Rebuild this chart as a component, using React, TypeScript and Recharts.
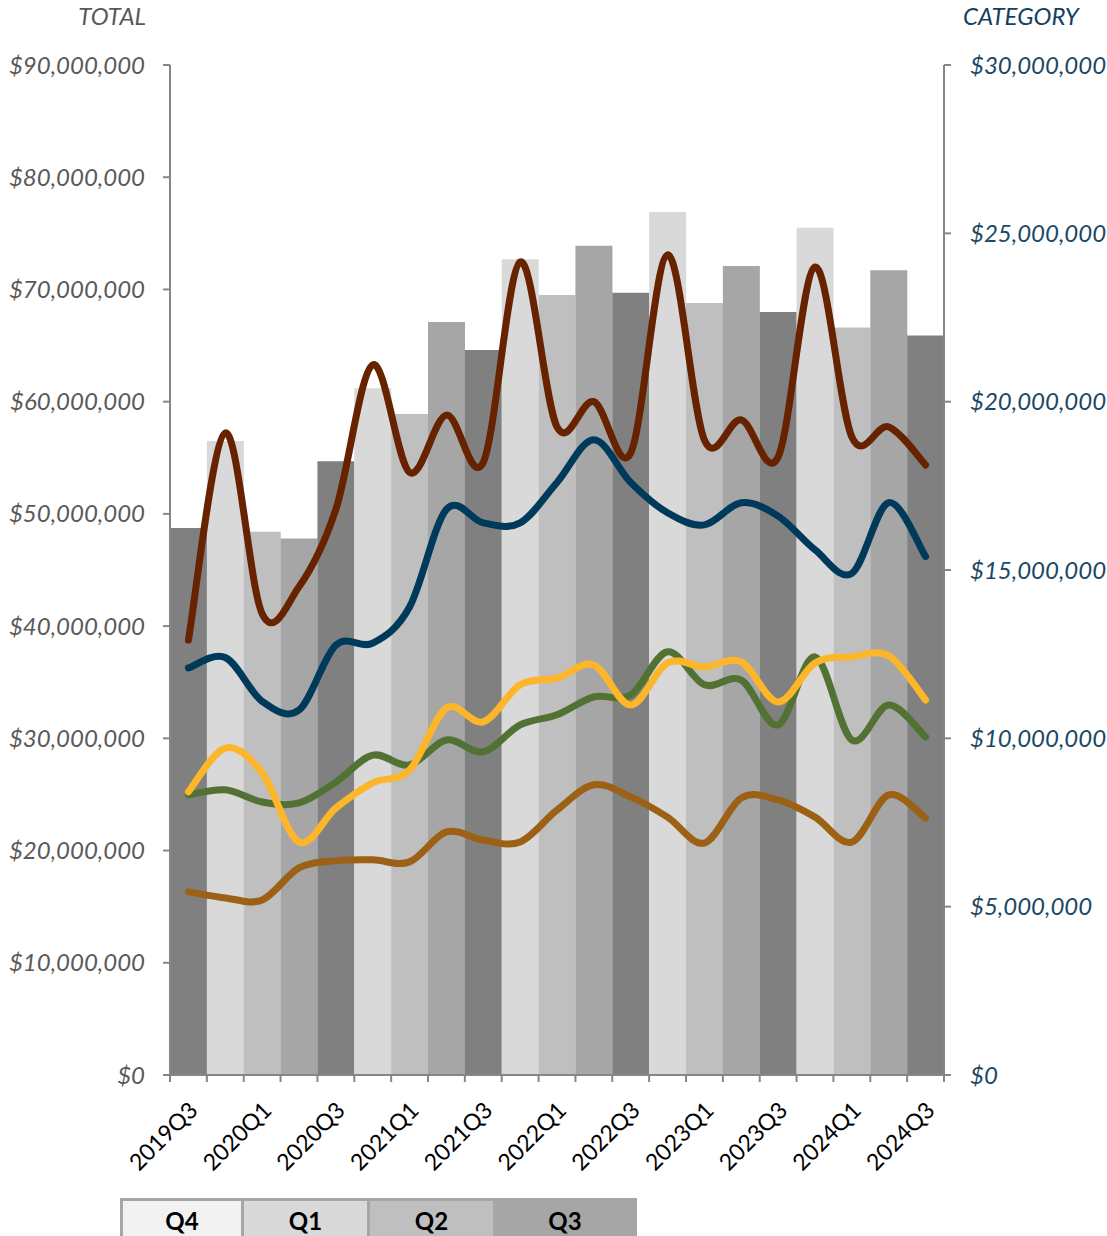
import React from "react";
import {
  ComposedChart,
  Bar,
  Cell,
  Line,
  XAxis,
  YAxis,
} from "recharts";

const quarters = [
  "2019Q3", "2019Q4", "2020Q1", "2020Q2", "2020Q3", "2020Q4", "2021Q1",
  "2021Q2", "2021Q3", "2021Q4", "2022Q1", "2022Q2", "2022Q3", "2022Q4",
  "2023Q1", "2023Q2", "2023Q3", "2023Q4", "2024Q1", "2024Q2", "2024Q3",
];

// total (left axis)
const totals = [
  48.75, 56.5, 48.4, 47.8, 54.7, 61.2, 58.9, 67.1, 64.6, 72.7, 69.5, 73.9,
  69.7, 76.9, 68.8, 72.1, 68.0, 75.5, 66.6, 71.7, 65.9,
].map((v) => v * 1e6);

// categories (right axis), in $M
const catRed = [
  12.92, 19.07, 13.7, 14.5, 16.8, 21.09, 17.9, 19.6, 18.2, 24.15, 19.25, 20.0,
  18.48, 24.36, 18.86, 19.46, 18.36, 24.0, 18.95, 19.25, 18.12,
];
const catBlue = [
  12.09, 12.4, 11.1, 10.84, 12.77, 12.83, 13.9, 16.8, 16.4, 16.4, 17.6, 18.87,
  17.6, 16.7, 16.34, 17.0, 16.6, 15.6, 14.9, 17.0, 15.4,
];
const catYellow = [
  8.41, 9.71, 8.97, 6.92, 7.93, 8.68, 9.06, 10.9, 10.49, 11.59, 11.79, 12.18,
  10.99, 12.24, 12.12, 12.27, 11.08, 12.24, 12.42, 12.45, 11.14,
];
const catGreen = [
  8.32, 8.47, 8.11, 8.08, 8.7, 9.5, 9.21, 9.95, 9.6, 10.4, 10.7, 11.23, 11.29,
  12.57, 11.59, 11.73, 10.4, 12.42, 9.95, 10.99, 10.04,
];
const catOrange = [
  5.44, 5.26, 5.2, 6.15, 6.36, 6.39, 6.33, 7.22, 6.98, 6.92, 7.87, 8.62, 8.26,
  7.66, 6.89, 8.23, 8.17, 7.66, 6.92, 8.32, 7.63,
];

const leftTicks = [0, 1, 2, 3, 4, 5, 6, 7, 8, 9].map((v) => v * 1e7);
const rightTicks = [0, 5, 10, 15, 20, 25, 30].map((v) => v * 1e6);
const legendItems = ["Q4", "Q1", "Q2", "Q3"];

const barColors: Record<string, string> = {
  Q3: "#808080",
  Q4: "#d9d9d9",
  Q1: "#bfbfbf",
  Q2: "#a6a6a6",
};
const legendColors: Record<string, string> = {
  Q4: "#f2f2f2",
  Q1: "#d9d9d9",
  Q2: "#bfbfbf",
  Q3: "#a6a6a6",
};

const data = quarters.map((q, i) => ({
  quarter: q,
  total: totals[i],
  red: catRed[i] * 1e6,
  blue: catBlue[i] * 1e6,
  yellow: catYellow[i] * 1e6,
  green: catGreen[i] * 1e6,
  orange: catOrange[i] * 1e6,
}));

const FONT = "Lato, 'Open Sans', sans-serif";
const AXIS = "#868686";
const PLOT_W = 774;

// excel style smoothed line (catmull-rom through the points)
const excelSmooth = (context: any) => {
  let pts: number[][] = [];
  return {
    areaStart() {},
    areaEnd() {},
    lineStart() {
      pts = [];
    },
    point(x: number, y: number) {
      pts.push([+x, +y]);
    },
    lineEnd() {
      if (!pts.length) return;
      context.moveTo(pts[0][0], pts[0][1]);
      for (let i = 0; i < pts.length - 1; i++) {
        const p0 = pts[Math.max(i - 1, 0)];
        const p1 = pts[i];
        const p2 = pts[i + 1];
        const p3 = pts[Math.min(i + 2, pts.length - 1)];
        context.bezierCurveTo(
          p1[0] + (p2[0] - p0[0]) / 6,
          p1[1] + (p2[1] - p0[1]) / 6,
          p2[0] - (p3[0] - p1[0]) / 6,
          p2[1] - (p3[1] - p1[1]) / 6,
          p2[0],
          p2[1]
        );
      }
    },
  };
};

const money = (v: number) => `$${v.toLocaleString("en-US")}`;

const QuarterTick = (props: any) => {
  const { x, y, index, payload } = props;
  const bw = PLOT_W / quarters.length;
  const tx = x + 5;
  const ty = y + 31;
  return (
    <g>
      <line x1={x - bw / 2} y1={y} x2={x - bw / 2} y2={y + 7} stroke={AXIS} strokeWidth={2} />
      {index === quarters.length - 1 && (
        <line x1={x + bw / 2} y1={y} x2={x + bw / 2} y2={y + 7} stroke={AXIS} strokeWidth={2} />
      )}
      {index % 2 === 0 && (
        <text
          x={tx}
          y={ty}
          dy="0.35em"
          textAnchor="end"
          transform={`rotate(-45 ${tx} ${ty})`}
          fill="#000"
          fontSize={23}
          fontFamily={FONT}
        >
          {payload.value}
        </text>
      )}
    </g>
  );
};

const lines = [
  { key: "orange", color: "#9c6114" },
  { key: "green", color: "#527234" },
  { key: "yellow", color: "#fdb52a" },
  { key: "blue", color: "#003a5a" },
  { key: "red", color: "#672200" },
];

export default function App() {
  return (
    <div
      style={{
        position: "absolute",
        left: 0,
        top: 0,
        width: 1107,
        height: 1236,
        background: "#fff",
        fontFamily: FONT,
      }}
    >
      <ComposedChart
        width={1107}
        height={1236}
        data={data}
        margin={{ top: 65, right: 0, bottom: 41, left: 0 }}
        barCategoryGap={0}
        barGap={0}
      >
        <XAxis
          dataKey="quarter"
          interval={0}
          height={120}
          tickLine={false}
          tickSize={0}
          tickMargin={0}
          axisLine={{ stroke: AXIS, strokeWidth: 2 }}
          tick={<QuarterTick />}
        />
        <YAxis
          yAxisId="left"
          width={170}
          domain={[0, 90000000]}
          ticks={leftTicks}
          interval={0}
          tickFormatter={money}
          tickSize={7}
          tickMargin={18}
          axisLine={{ stroke: AXIS, strokeWidth: 2 }}
          tickLine={{ stroke: AXIS, strokeWidth: 2 }}
          tick={{ fill: "#595959", fontSize: 24, fontStyle: "italic", fontFamily: FONT }}
        />
        <YAxis
          yAxisId="right"
          orientation="right"
          width={163}
          domain={[0, 30000000]}
          ticks={rightTicks}
          interval={0}
          tickFormatter={money}
          tickSize={7}
          tickMargin={19}
          axisLine={{ stroke: AXIS, strokeWidth: 2 }}
          tickLine={{ stroke: AXIS, strokeWidth: 2 }}
          tick={{ fill: "#1a4866", fontSize: 24, fontStyle: "italic", fontFamily: FONT, textAnchor: "start" }}
        />
        <Bar yAxisId="left" dataKey="total" isAnimationActive={false}>
          {data.map((d, i) => (
            <Cell key={`cell-${i}`} fill={barColors[d.quarter.slice(4)]} />
          ))}
        </Bar>
        {lines.map((l) => (
          <Line
            key={l.key}
            yAxisId="right"
            dataKey={l.key}
            type={excelSmooth as any}
            stroke={l.color}
            strokeWidth={7}
            strokeLinecap="round"
            dot={false}
            activeDot={false}
            isAnimationActive={false}
          />
        ))}
      </ComposedChart>

      <div
        style={{
          position: "absolute",
          right: 1107 - 146,
          top: 1,
          fontSize: 24,
          fontStyle: "italic",
          color: "#595959",
        }}
      >
        TOTAL
      </div>
      <div
        style={{
          position: "absolute",
          left: 963,
          top: 1,
          fontSize: 24,
          fontStyle: "italic",
          color: "#14415f",
        }}
      >
        CATEGORY
      </div>

      <div
        style={{
          position: "absolute",
          left: 120,
          top: 1198,
          display: "flex",
          border: "3px solid #a6a6a6",
          borderBottom: "none",
          height: 38,
        }}
      >
        {legendItems.map((q, i) => (
          <div
            key={q}
            style={{
              width: [118, 123, 123, 138][i],
              background: legendColors[q],
              borderLeft: i === 0 ? "none" : "3px solid #a6a6a6",
              borderColor: i === 3 ? legendColors[q] : "#a6a6a6",
              fontWeight: "bold",
              fontSize: 24,
              color: "#000",
              textAlign: "center",
              lineHeight: "40px",
            }}
          >
            {q}
          </div>
        ))}
      </div>
    </div>
  );
}
